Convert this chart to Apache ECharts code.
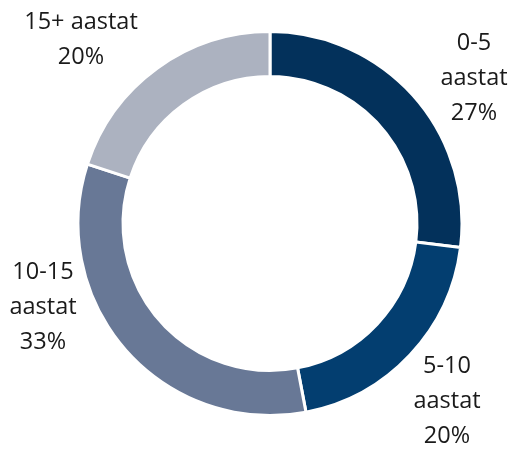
<!DOCTYPE html>
<html><head><meta charset="utf-8">
<script src="https://cdn.jsdelivr.net/npm/echarts@6/dist/echarts.min.js"></script>
<style>html,body{margin:0;padding:0;background:#fff}#c{width:510px;height:449px}</style>
</head><body><div id="c"></div>
<script>
var categories = ['0-5\naastat', '5-10\naastat', '10-15\naastat', '15+ aastat'];
var values = [27, 20, 33, 20];
var colors = ['#03315b', '#033e70', '#687896', '#acb2c0'];
var labelPos = [[474, 78], [447, 401], [43, 307], [81, 40]];

var chart = echarts.init(document.getElementById('c'));
chart.setOption({
  animation: false,
  series: [{
    type: 'pie',
    center: [270, 223.5],
    radius: [147, 192],
    startAngle: 90,
    clockwise: true,
    data: categories.map(function (c, i) {
      return { name: c, value: values[i], itemStyle: { color: colors[i] } };
    }),
    itemStyle: { borderColor: '#fff', borderWidth: 3 },
    label: {
      show: true,
      position: 'outside',
      overflow: 'none',
      formatter: function (p) { return p.name + '\n' + p.value + '%'; },
      fontFamily: 'Open Sans',
      fontWeight: 'normal',
      fontSize: 23.5,
      lineHeight: 35,
      color: '#1a1a1a',
      align: 'center'
    },
    labelLine: { show: false },
    labelLayout: function (p) {
      var pos = labelPos[p.dataIndex];
      return { x: pos[0], y: pos[1], align: 'center', verticalAlign: 'middle' };
    }
  }]
});
</script>
</body></html>
